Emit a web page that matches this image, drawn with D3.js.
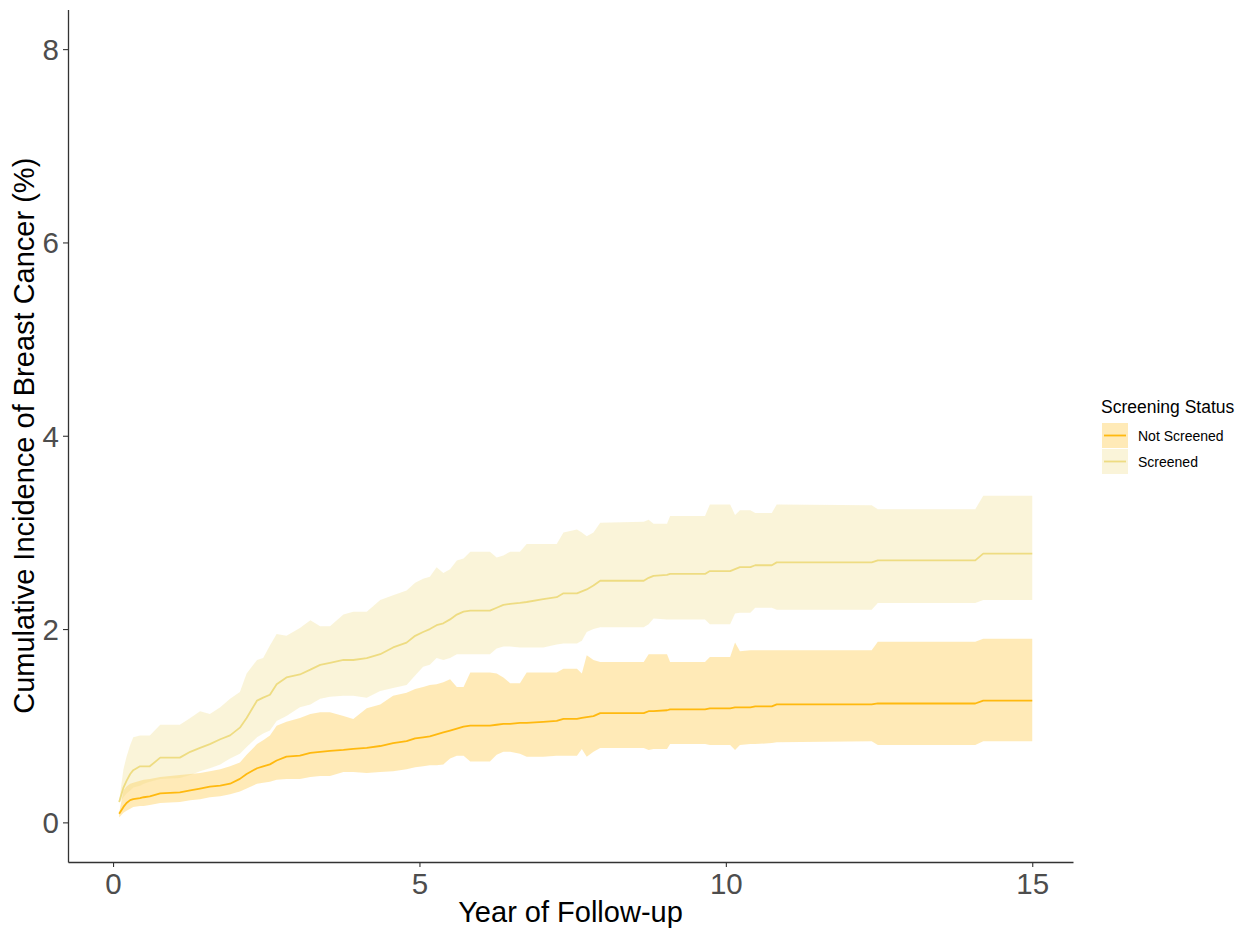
<!DOCTYPE html>
<html>
<head>
<meta charset="utf-8">
<script src="https://cdn.jsdelivr.net/npm/d3@7"></script>
<style>
  html, body { margin: 0; padding: 0; background: #fff; }
  svg { display: block; font-family: "Liberation Sans", Arial, sans-serif; }
</style>
</head>
<body>
<svg id="chart" width="1251" height="932"></svg>
<script>
const years = [0.1, 0.17, 0.22, 0.28, 0.33, 0.44, 0.5, 0.6, 0.77, 1.09, 1.26, 1.42, 1.58, 1.75, 1.91, 2.07, 2.18, 2.35, 2.45, 2.56, 2.67, 2.83, 3.05, 3.22, 3.38, 3.54, 3.76, 3.92, 4.14, 4.36, 4.57, 4.79, 4.93, 5.06, 5.17, 5.28, 5.39, 5.5, 5.61, 5.72, 5.83, 6.15, 6.26, 6.37, 6.48, 6.64, 6.75, 7.02, 7.24, 7.35, 7.57, 7.65, 7.73, 7.84, 7.95, 8.66, 8.74, 8.82, 9.04, 9.09, 9.66, 9.74, 10.07, 10.15, 10.23, 10.4, 10.48, 10.75, 10.83, 12.38, 12.48, 14.07, 14.2, 15.0];

const screenedEst = [0.21, 0.36, 0.43, 0.50, 0.54, 0.58, 0.58, 0.58, 0.67, 0.67, 0.73, 0.77, 0.81, 0.86, 0.90, 0.98, 1.08, 1.26, 1.29, 1.32, 1.43, 1.50, 1.53, 1.58, 1.63, 1.65, 1.68, 1.68, 1.70, 1.74, 1.81, 1.86, 1.93, 1.97, 2.00, 2.04, 2.06, 2.10, 2.15, 2.18, 2.19, 2.19, 2.22, 2.25, 2.26, 2.27, 2.28, 2.31, 2.33, 2.37, 2.37, 2.39, 2.41, 2.45, 2.50, 2.50, 2.53, 2.55, 2.56, 2.57, 2.57, 2.60, 2.60, 2.62, 2.64, 2.64, 2.66, 2.66, 2.69, 2.69, 2.71, 2.71, 2.78, 2.78];
const screenedUpper = [0.22, 0.55, 0.68, 0.80, 0.88, 0.90, 0.90, 0.90, 1.01, 1.01, 1.08, 1.15, 1.12, 1.19, 1.28, 1.35, 1.54, 1.68, 1.70, 1.83, 1.95, 1.93, 2.01, 2.09, 2.03, 2.03, 2.15, 2.18, 2.18, 2.30, 2.35, 2.40, 2.48, 2.52, 2.54, 2.64, 2.58, 2.62, 2.71, 2.73, 2.80, 2.80, 2.74, 2.76, 2.80, 2.80, 2.88, 2.88, 2.88, 3.00, 3.03, 3.00, 2.96, 3.00, 3.10, 3.11, 3.13, 3.09, 3.09, 3.17, 3.17, 3.29, 3.29, 3.18, 3.23, 3.23, 3.20, 3.20, 3.29, 3.28, 3.24, 3.24, 3.38, 3.38];
const screenedLower = [0.20, 0.26, 0.30, 0.33, 0.36, 0.38, 0.40, 0.42, 0.45, 0.46, 0.49, 0.53, 0.56, 0.60, 0.66, 0.71, 0.78, 0.88, 0.92, 0.95, 1.05, 1.10, 1.19, 1.22, 1.28, 1.30, 1.31, 1.31, 1.29, 1.36, 1.39, 1.42, 1.52, 1.61, 1.63, 1.70, 1.68, 1.70, 1.74, 1.74, 1.74, 1.74, 1.80, 1.82, 1.82, 1.81, 1.81, 1.81, 1.84, 1.85, 1.85, 1.88, 1.97, 2.00, 2.02, 2.02, 2.05, 2.11, 2.10, 2.10, 2.10, 2.05, 2.05, 2.16, 2.17, 2.17, 2.22, 2.22, 2.20, 2.20, 2.27, 2.27, 2.30, 2.30];

const notScreenedEst = [0.09, 0.16, 0.20, 0.23, 0.24, 0.25, 0.26, 0.27, 0.30, 0.31, 0.33, 0.35, 0.37, 0.38, 0.40, 0.45, 0.50, 0.56, 0.58, 0.60, 0.64, 0.68, 0.69, 0.72, 0.73, 0.74, 0.75, 0.76, 0.77, 0.79, 0.82, 0.84, 0.87, 0.88, 0.89, 0.91, 0.93, 0.95, 0.97, 0.99, 1.00, 1.00, 1.01, 1.02, 1.02, 1.03, 1.03, 1.04, 1.05, 1.07, 1.07, 1.08, 1.09, 1.10, 1.13, 1.13, 1.15, 1.15, 1.16, 1.17, 1.17, 1.18, 1.18, 1.19, 1.19, 1.19, 1.20, 1.20, 1.22, 1.22, 1.23, 1.23, 1.26, 1.26];
const notScreenedUpper = [0.10, 0.33, 0.37, 0.40, 0.41, 0.43, 0.44, 0.45, 0.47, 0.49, 0.50, 0.51, 0.53, 0.55, 0.58, 0.62, 0.70, 0.81, 0.85, 0.90, 1.00, 1.04, 1.08, 1.12, 1.14, 1.14, 1.10, 1.07, 1.18, 1.22, 1.31, 1.34, 1.38, 1.40, 1.42, 1.43, 1.45, 1.48, 1.40, 1.40, 1.55, 1.55, 1.54, 1.50, 1.44, 1.44, 1.55, 1.55, 1.55, 1.59, 1.59, 1.54, 1.73, 1.68, 1.66, 1.66, 1.74, 1.74, 1.74, 1.66, 1.66, 1.71, 1.71, 1.86, 1.77, 1.78, 1.78, 1.78, 1.78, 1.78, 1.87, 1.87, 1.90, 1.90];
const notScreenedLower = [0.05, 0.10, 0.12, 0.14, 0.16, 0.17, 0.17, 0.18, 0.20, 0.21, 0.23, 0.24, 0.26, 0.27, 0.29, 0.32, 0.35, 0.40, 0.41, 0.42, 0.44, 0.45, 0.45, 0.47, 0.48, 0.48, 0.52, 0.52, 0.51, 0.52, 0.53, 0.55, 0.57, 0.58, 0.59, 0.59, 0.60, 0.66, 0.69, 0.69, 0.63, 0.63, 0.70, 0.73, 0.73, 0.71, 0.68, 0.68, 0.69, 0.69, 0.69, 0.76, 0.68, 0.73, 0.77, 0.77, 0.75, 0.76, 0.76, 0.81, 0.81, 0.80, 0.80, 0.75, 0.80, 0.81, 0.81, 0.82, 0.83, 0.84, 0.80, 0.80, 0.84, 0.84];

const groupNames = ["Not Screened", "Screened"];
const xTicks = [0, 5, 10, 15];
const yTicks = [0, 2, 4, 6, 8];
const xTitle = "Year of Follow-up";
const yTitle = "Cumulative Incidence of Breast Cancer (%)";
const legendTitle = "Screening Status";

const series = [
  { name: groupNames[0], est: notScreenedEst, lo: notScreenedLower, hi: notScreenedUpper, line: "#FFB90F", fill: "#FFB90F", alpha: 0.3 },
  { name: groupNames[1], est: screenedEst, lo: screenedLower, hi: screenedUpper, line: "#EEDC82", fill: "#EEDC82", alpha: 0.3 }
];

const svg = d3.select("#chart");
const plot = { left: 68, right: 1073, top: 9.5, bottom: 862 };

const x = d3.scaleLinear().domain([-0.735, 15.665]).range([plot.left, plot.right]);
const y = d3.scaleLinear().domain([-0.41, 8.41]).range([plot.bottom, plot.top]);

// ribbons
series.forEach(s => {
  const pts = years.map((t, i) => ({ t, lo: s.lo[i], hi: s.hi[i] }));
  svg.append("path")
    .datum(pts)
    .attr("fill", s.fill)
    .attr("fill-opacity", s.alpha)
    .attr("d", d3.area().x(d => x(d.t)).y0(d => y(d.lo)).y1(d => y(d.hi)));
});
// lines
series.forEach(s => {
  const pts = years.map((t, i) => ({ t, v: s.est[i] }));
  svg.append("path")
    .datum(pts)
    .attr("fill", "none")
    .attr("stroke", s.line)
    .attr("stroke-width", 1.8)
    .attr("stroke-linejoin", "round")
    .attr("d", d3.line().x(d => x(d.t)).y(d => y(d.v)));
});

// axes
const xAxis = svg.append("g").attr("transform", `translate(0,${plot.bottom})`)
  .call(d3.axisBottom(x).tickValues(xTicks).tickSize(5).tickPadding(6).tickSizeOuter(0));
const yAxis = svg.append("g").attr("transform", `translate(${plot.left},0)`)
  .call(d3.axisLeft(y).tickValues(yTicks).tickSize(5).tickPadding(4).tickSizeOuter(0));
[xAxis, yAxis].forEach(g => {
  g.select(".domain").attr("stroke", "#333").attr("stroke-width", 1.3);
  g.selectAll(".tick line").attr("stroke", "#333").attr("stroke-width", 1.1);
  g.selectAll(".tick text").attr("fill", "#4D4D4D").style("font-size", "29.5px")
    .style("font-family", "Liberation Sans, Arial, sans-serif");
});
xAxis.selectAll(".tick text").attr("dy", "0.71em");
yAxis.selectAll(".tick text").attr("dy", "0.35em");

// titles
svg.append("text")
  .attr("x", (plot.left + plot.right) / 2).attr("y", 922)
  .attr("text-anchor", "middle").attr("fill", "#000")
  .style("font-size", "29px").text(xTitle);
svg.append("text")
  .attr("transform", `translate(34,${(plot.top + plot.bottom) / 2}) rotate(-90)`)
  .attr("text-anchor", "middle").attr("fill", "#000")
  .style("font-size", "29px").text(yTitle);

// legend
const lg = svg.append("g").attr("transform", "translate(1101,0)");
lg.append("text").attr("x", 0).attr("y", 413).attr("fill", "#000")
  .style("font-size", "17.5px").text(legendTitle);
series.forEach((s, i) => {
  const top = 423 + i * 26;
  lg.append("rect").attr("x", 1).attr("y", top).attr("width", 26).attr("height", 25)
    .attr("fill", s.fill).attr("fill-opacity", s.alpha);
  lg.append("line").attr("x1", 3).attr("x2", 25).attr("y1", top + 12.5).attr("y2", top + 12.5)
    .attr("stroke", s.line).attr("stroke-width", 1.8);
  lg.append("text").attr("x", 37).attr("y", top + 18).attr("fill", "#000")
    .style("font-size", "14px").text(s.name);
});
</script>
</body>
</html>
